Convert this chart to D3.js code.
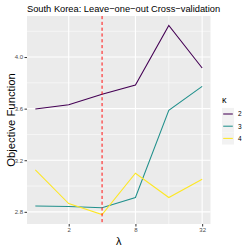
<!DOCTYPE html>
<html><head><meta charset="utf-8">
<script src="https://cdn.jsdelivr.net/npm/d3@7"></script>
<style>body{margin:0;background:#fff}svg{display:block}text{font-family:"Liberation Sans",Arial,sans-serif}</style>
</head><body><svg id="c" width="250" height="250"></svg>
<script>
const lambdas = [1, 2, 4, 8, 16, 32];
const kappas = ["2", "3", "4"];
const k2 = [3.598, 3.631, 3.711, 3.783, 4.245, 3.915];
const k3 = [2.846, 2.841, 2.831, 2.911, 3.587, 3.773];
const k4 = [3.125, 2.864, 2.779, 3.099, 2.911, 3.052];
const xTicks = [2, 8, 32];
const yTicks = [2.8, 3.2, 3.6, 4.0];
const chosenLambda = 4;
const colors = ["#440154", "#21908C", "#FDE725"];
const series = [k2, k3, k4];

const svg = d3.select("#c");
const L = 27, R = 210.5, T = 16, B = 224;
const x = d3.scaleLog().base(2).domain([Math.pow(2, -0.25), Math.pow(2, 5.25)]).range([L, R]);
const all = series.flat();
const ymin = d3.min(all), ymax = d3.max(all), pad = (ymax - ymin) * 0.05;
const y = d3.scaleLinear().domain([ymin - pad, ymax + pad]).range([B, T]);

svg.append("rect").attr("x", L).attr("y", T).attr("width", R - L).attr("height", B - T).attr("fill", "#EBEBEB");
const g = svg.append("g");
const yMinor = [3.0, 3.4, 3.8, 4.2];
const xMinor = [4, 16];
g.selectAll(".ym").data(yMinor).enter().append("line")
  .attr("x1", L).attr("x2", R).attr("y1", d => y(d)).attr("y2", d => y(d))
  .attr("stroke", "#fff").attr("stroke-width", 0.55);
g.selectAll(".xm").data(xMinor).enter().append("line")
  .attr("y1", T).attr("y2", B).attr("x1", d => x(d)).attr("x2", d => x(d))
  .attr("stroke", "#fff").attr("stroke-width", 0.55);
g.selectAll(".yM").data(yTicks).enter().append("line")
  .attr("x1", L).attr("x2", R).attr("y1", d => y(d)).attr("y2", d => y(d))
  .attr("stroke", "#fff").attr("stroke-width", 1.1);
g.selectAll(".xM").data(xTicks).enter().append("line")
  .attr("y1", T).attr("y2", B).attr("x1", d => x(d)).attr("x2", d => x(d))
  .attr("stroke", "#fff").attr("stroke-width", 1.1);

const line = d3.line().x((d, i) => x(lambdas[i])).y(d => y(d));
series.forEach((s, i) => {
  svg.append("path").datum(s).attr("d", line).attr("fill", "none")
    .attr("stroke", colors[i]).attr("stroke-width", 1.05);
});

svg.append("line").attr("x1", x(chosenLambda)).attr("x2", x(chosenLambda)).attr("y1", T).attr("y2", B)
  .attr("stroke", "#FF0000").attr("stroke-width", 0.95).attr("stroke-dasharray", "3.2,2.6");

const xa = svg.append("g").attr("transform", `translate(0,${B})`)
  .call(d3.axisBottom(x).tickValues(xTicks).tickFormat(d3.format("d")).tickSize(2.5).tickPadding(1.5));
const ya = svg.append("g").attr("transform", `translate(${L},0)`)
  .call(d3.axisLeft(y).tickValues(yTicks).tickFormat(d3.format(".1f")).tickSize(2.5).tickPadding(1.5));
[xa, ya].forEach(a => {
  a.select(".domain").remove();
  a.selectAll(".tick line").attr("stroke", "#333333").attr("stroke-width", 1);
  a.selectAll(".tick text").attr("fill", "#4D4D4D").attr("font-size", 6).attr("font-family", "Liberation Sans");
});

svg.append("text").attr("x", L).attr("y", 12).attr("font-size", 9.3).attr("fill", "#000")
  .text("South Korea: Leave\u2212one\u2212out Cross\u2212validation");
svg.append("text").attr("x", (L + R) / 2).attr("y", 245).attr("text-anchor", "middle")
  .attr("font-size", 11).text("\u03bb");
svg.append("text").attr("transform", `translate(15,${(T + B) / 2}) rotate(-90)`).attr("text-anchor", "middle")
  .attr("font-size", 11.3).text("Objective Function");

const lg = svg.append("g");
lg.append("text").attr("x", 222).attr("y", 103).attr("font-size", 9).text("\u03ba");
kappas.forEach((k, i) => {
  const cy = 114 + i * 12.2;
  lg.append("rect").attr("x", 222).attr("y", cy - 6.1).attr("width", 12).attr("height", 12.2).attr("fill", "#F2F2F2");
  lg.append("line").attr("x1", 223.2).attr("x2", 232.8).attr("y1", cy).attr("y2", cy)
    .attr("stroke", colors[i]).attr("stroke-width", 1.05);
  lg.append("text").attr("x", 238).attr("y", cy + 2.3).attr("font-size", 6.5).attr("fill", "#000").text(k);
});
</script></body></html>
